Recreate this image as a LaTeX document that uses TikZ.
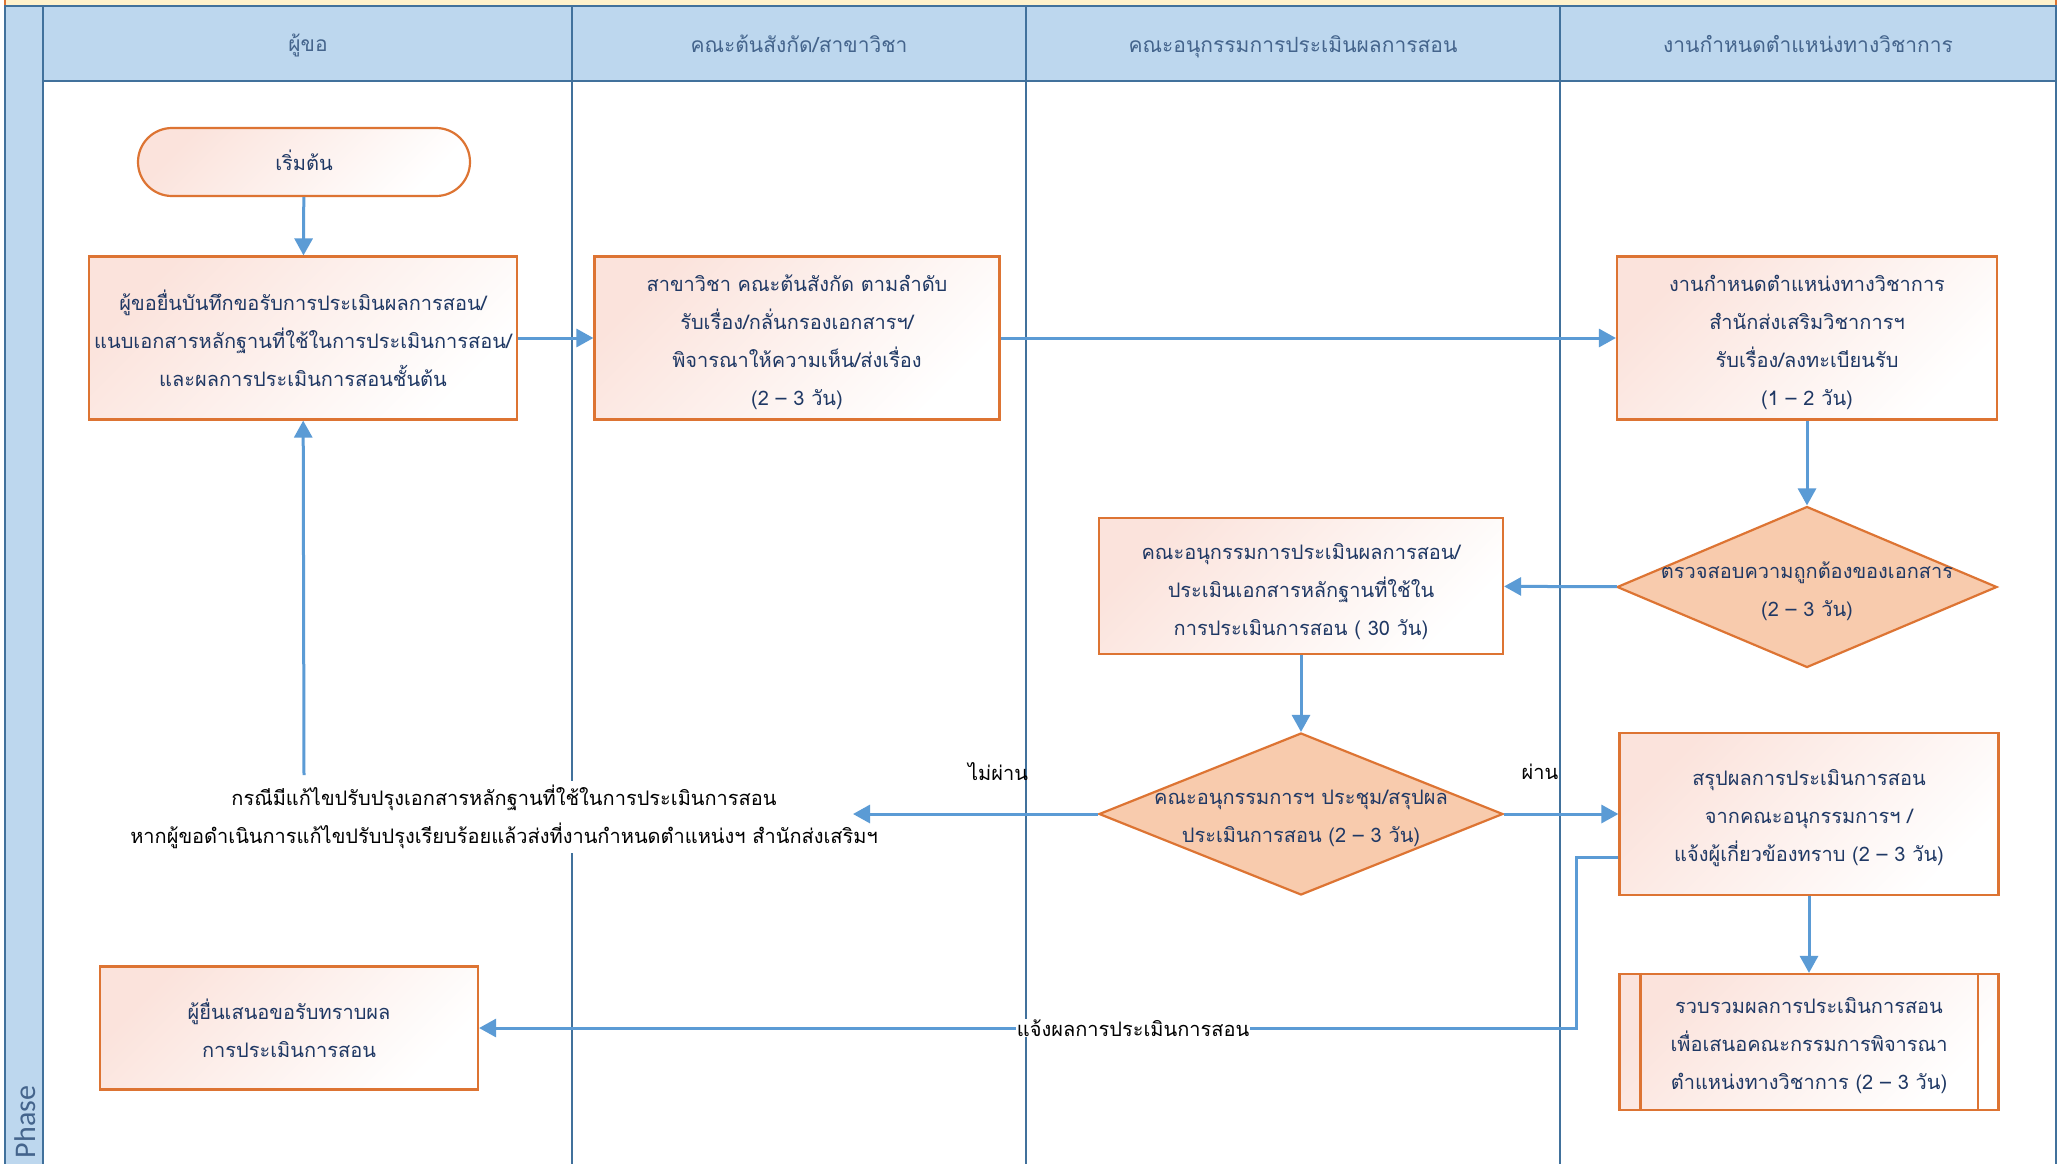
\documentclass[tikz,border=0pt]{standalone}
\usepackage{fontspec}
\usetikzlibrary{arrows.meta,shapes.geometric,calc}
\newfontfamily\thai[Script=Thai]{Loma}
\newfontfamily\phasefont{Carlito}
\definecolor{laneblue}{HTML}{41719C}
\definecolor{hdrfill}{HTML}{BDD7EE}
\definecolor{hdrtext}{HTML}{44648C}
\definecolor{boxorange}{HTML}{DD7433}
\definecolor{boxpink}{HTML}{FBE3DC}
\definecolor{diafill}{HTML}{F8CBAD}
\definecolor{connblue}{HTML}{5B9BD5}
\definecolor{navytext}{HTML}{1F3864}
\definecolor{stripyellow}{HTML}{FFF2CC}
\begin{document}
\begin{tikzpicture}[x=1pt,y=-1pt,
  laneline/.style={draw=laneblue,line width=2.4pt},
  hdr/.style={font=\thai\fontsize{21}{30}\selectfont,text=hdrtext,inner sep=0pt},
  txt/.style={font=\thai\fontsize{20}{38}\selectfont,align=center},
  procbox/.style={draw=boxorange,line width=2.2pt,
    top color=boxpink,middle color=white!80!boxpink,bottom color=white,shading angle=45,inner sep=0pt},
  term/.style={procbox,rounded corners=34pt},
  decision/.style={diamond,draw=boxorange,line width=2.2pt,fill=diafill,inner sep=0pt,aspect=2.5},
  btext/.style={txt,text=navytext,inner sep=0pt},
  conn/.style={draw=connblue,line width=3pt,-{Triangle[length=17pt,width=18pt]}},
  lbl/.style={txt,text=black,inner sep=1pt}
]
\useasboundingbox (0,0) rectangle (2063,1163);
\fill[white] (0,0) rectangle (2063,1163);
% top strip
\fill[stripyellow] (5,-2) rectangle (2056,6);
\draw[boxorange,line width=2pt] (5,-2) -- (5,6) (2056,-2) -- (2056,6);
% phase column and header band
\filldraw[fill=hdrfill,laneline] (5,6) rectangle (43,1175);
\filldraw[fill=hdrfill,laneline] (43,6) rectangle (2056,81);
\draw[laneline] (43,81) -- (43,1175);
\draw[laneline] (572,6) -- (572,1175);
\draw[laneline] (1026,6) -- (1026,1175);
\draw[laneline] (1560,6) -- (1560,1175);
\draw[laneline] (2056,6) -- (2056,1175);
\node[rotate=90,font=\phasefont\fontsize{30}{30}\selectfont,text=hdrtext,inner sep=0pt] (phase) at (25,1122) {Phase};
% lane headers
\node[hdr] (h1) at (308,45) {ผู้ขอ};
\node[hdr] (h2) at (799,44) {คณะต้นสังกัด/สาขาวิชา};
\node[hdr] (h3) at (1293,47) {คณะอนุกรรมการประเมินผลการสอน};
\node[hdr] (h4) at (1808,44) {งานกำหนดตำแหน่งทางวิชาการ};
% shapes
\node[term,minimum width=332pt,minimum height=68pt] (start) at (304,162) {};
\node[procbox,minimum width=428pt,minimum height=163pt] (b1) at (303,338) {};
\node[procbox,minimum width=405pt,minimum height=163pt] (b2) at (797,338) {};
\node[procbox,minimum width=380pt,minimum height=163pt] (b3) at (1807,338) {};
\node[decision,minimum width=380pt,minimum height=161pt] (d1) at (1807,587) {};
\node[procbox,minimum width=404pt,minimum height=136pt] (b4) at (1301,586) {};
\node[decision,minimum width=404pt,minimum height=162pt] (d2) at (1301,814) {};
\node[procbox,minimum width=379pt,minimum height=162pt] (b5) at (1809,814) {};
\node[procbox,minimum width=379pt,minimum height=136pt] (b6) at (1809,1042) {};
\draw[boxorange,line width=2.2pt] ([xshift=22pt]b6.north west) -- ([xshift=22pt]b6.south west)
  ([xshift=-22pt]b6.north east) -- ([xshift=-22pt]b6.south east);
\node[procbox,minimum width=378pt,minimum height=123pt] (b7) at (289,1028) {};
% texts
\node[btext] (startt) at ([yshift=2pt]start.center) {เริ่มต้น};
\node[btext] (b1t) at (b1.center)
  {ผู้ขอยื่นบันทึกขอรับการประเมินผลการสอน/\\แนบเอกสารหลักฐานที่ใช้ในการประเมินการสอน/\\และผลการประเมินการสอนชั้นต้น};
\node[btext] (b2t) at ([yshift=-4pt]b2.center)
  {สาขาวิชา คณะต้นสังกัด ตามลำดับ\\รับเรื่อง/กลั่นกรองเอกสารฯ/\\พิจารณาให้ความเห็น/ส่งเรื่อง\\(2 – 3 วัน)};
\node[btext] (b3t) at ([yshift=-4pt]b3.center)
  {งานกำหนดตำแหน่งทางวิชาการ\\สำนักส่งเสริมวิชาการฯ\\รับเรื่อง/ลงทะเบียนรับ\\(1 – 2 วัน)};
\node[btext] (d1t) at ([yshift=-4pt]d1.center) {ตรวจสอบความถูกต้องของเอกสาร\\(2 – 3 วัน)};
\node[btext] (b4t) at ([yshift=-6pt]b4.center)
  {คณะอนุกรรมการประเมินผลการสอน/\\ประเมินเอกสารหลักฐานที่ใช้ใน\\การประเมินการสอน ( 30 วัน)};
\node[btext] (d2t) at ([yshift=-4pt]d2.center) {คณะอนุกรรมการฯ ประชุม/สรุปผล\\ประเมินการสอน (2 – 3 วัน)};
\node[btext] (b5t) at ([yshift=-4pt]b5.center)
  {สรุปผลการประเมินการสอน\\จากคณะอนุกรรมการฯ /\\แจ้งผู้เกี่ยวข้องทราบ (2 – 3 วัน)};
\node[btext] (b6t) at ([yshift=-4pt]b6.center)
  {รวบรวมผลการประเมินการสอน\\เพื่อเสนอคณะกรรมการพิจารณา\\ตำแหน่งทางวิชาการ (2 – 3 วัน)};
\node[btext] (b7t) at (b7.center) {ผู้ยื่นเสนอขอรับทราบผล\\การประเมินการสอน};
\node[lbl,fill=white,inner sep=4pt] (note) at (504,817)
  {กรณีมีแก้ไขปรับปรุงเอกสารหลักฐานที่ใช้ในการประเมินการสอน\\หากผู้ขอดำเนินการแก้ไขปรับปรุงเรียบร้อยแล้วส่งที่งานกำหนดตำแหน่งฯ สำนักส่งเสริมฯ};
\coordinate (noteup) at (304,775);
\coordinate (failend) at (853,814);
% connectors
\draw[conn] (start) -- (b1);
\draw[conn] (b1) -- (b2);
\draw[conn] (b2) -- (b3);
\draw[conn] (b3) -- (d1);
\draw[conn] (d1) -- (b4);
\draw[conn] (b4) -- (d2);
\draw[conn] (d2) -- (b5);
\node[lbl] (pass) at (1540,772) {ผ่าน};
\draw[conn] (d2) -- (failend);
\node[lbl] (fail) at (998,772) {ไม่ผ่าน};
\draw[conn] (noteup) -- (b1);
\draw[conn] (b5) -- (b6);
\draw[conn] ([yshift=-43pt]b5.west) -- ++(-42,0) |- (b7.east)
  node[lbl,fill=white,pos=0.702] (inform) {แจ้งผลการประเมินการสอน};
\end{tikzpicture}
\end{document}
